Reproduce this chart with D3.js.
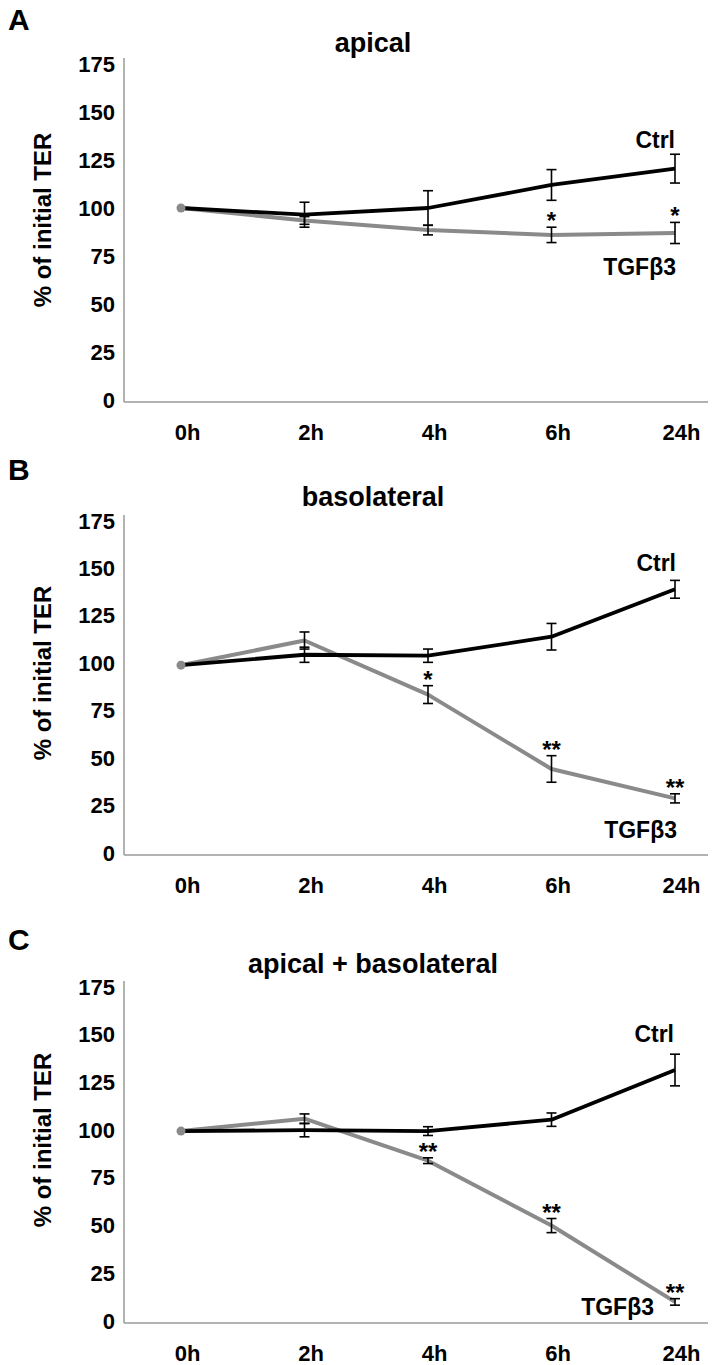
<!DOCTYPE html>
<html>
<head>
<meta charset="utf-8">
<script src="https://cdn.jsdelivr.net/npm/d3@7"></script>
<style>
body { margin: 0; background: #fff; }
svg text { font-family: "Liberation Sans", Arial, sans-serif; font-weight: bold; fill: #000; }
</style>
</head>
<body>
<svg id="chart" width="712" height="1365"></svg>
<script>
const times = ["0h", "2h", "4h", "6h", "24h"]
const yTicks = [0, 25, 50, 75, 100, 125, 150, 175]

// A - apical
const ctrlA = [100, 96.5, 100, 112, 120.5]
const ctrlAErr = [0, 6.5, 9, 8, 7.5]
const tgfA = [100, 93.5, 88.5, 86, 87]
const tgfAErr = [0, 2, 2.5, 4, 5.5]
const starsA = ["", "", "", "*", "*"]

// B - basolateral
const ctrlB = [99, 104.5, 104, 114, 139]
const ctrlBErr = [0, 4, 3.5, 7, 4.7]
const tgfB = [99, 112, 83.5, 44.3, 28.8]
const tgfBErr = [0, 4.5, 4.7, 7, 2.4]
const starsB = ["", "", "*", "**", "**"]

// C - apical + basolateral
const ctrlC = [99.5, 100, 99.5, 105.5, 131.5]
const ctrlCErr = [0, 3.5, 2.3, 3.5, 8.3]
const tgfC = [99.5, 106, 84, 50, 10]
const tgfCErr = [0, 2.5, 1.5, 3.7, 1.7]
const starsC = ["", "", "**", "**", "**"]

const panels = [
	{letter: "A", title: "apical", ctrl: ctrlA, ctrlErr: ctrlAErr, tgf: tgfA, tgfErr: tgfAErr, stars: starsA,
		y0: 400, y175: 64, letterY: 30, titleY: 52, ytitleY: 220, ctrlLab: [675, 148], tgfLab: [676, 275]},
	{letter: "B", title: "basolateral", ctrl: ctrlB, ctrlErr: ctrlBErr, tgf: tgfB, tgfErr: tgfBErr, stars: starsB,
		y0: 853, y175: 521, letterY: 480, titleY: 506, ytitleY: 673, ctrlLab: [676, 571], tgfLab: [677, 838]},
	{letter: "C", title: "apical + basolateral", ctrl: ctrlC, ctrlErr: ctrlCErr, tgf: tgfC, tgfErr: tgfCErr, stars: starsC,
		y0: 1321, y175: 987, letterY: 950, titleY: 973, ytitleY: 1140, ctrlLab: [674, 1042], tgfLab: [654, 1315]}
]

const svg = d3.select("#chart")
const x = d3.scalePoint().domain(times).range([181, 675])
const axisLeftX = 124
const axisRightX = 708

function drawPanel(p) {
	const g = svg.append("g")
	const y = d3.scaleLinear().domain([0, 175]).range([p.y0, p.y175])

	g.append("text").attr("x", 8).attr("y", p.letterY).style("font-size", "30px").text(p.letter)
	g.append("text").attr("x", 373).attr("y", p.titleY).attr("text-anchor", "middle")
		.style("font-size", "27px").text(p.title)
	g.append("text")
		.attr("transform", `translate(42,${p.ytitleY}) rotate(-90)`)
		.attr("text-anchor", "middle").attr("dominant-baseline", "central")
		.style("font-size", "24px").text("% of initial TER")

	// axes
	const ya = g.append("g").attr("transform", `translate(${axisLeftX},0)`)
		.call(d3.axisLeft(y).tickValues(yTicks).tickSize(0).tickPadding(9))
	ya.select(".domain").remove()
	ya.selectAll("text").style("font-size", "22px")

	const xa = g.append("g").attr("transform", `translate(6,${p.y0 + 2})`)
		.call(d3.axisBottom(x).tickSize(0).tickPadding(22))
	xa.select(".domain").remove()
	xa.selectAll("text").style("font-size", "22px")

	g.append("line").attr("x1", axisLeftX).attr("x2", axisLeftX)
		.attr("y1", y(175) - 6).attr("y2", p.y0 + 2)
		.attr("stroke", "#9a9a9a").attr("stroke-width", 1.5)
	g.append("line").attr("x1", axisLeftX).attr("x2", axisRightX)
		.attr("y1", p.y0 + 2).attr("y2", p.y0 + 2)
		.attr("stroke", "#9a9a9a").attr("stroke-width", 1.5)

	const line = d3.line().x((d, i) => x(times[i])).y(d => y(d))

	g.append("path").datum(p.tgf).attr("d", line)
		.attr("fill", "none").attr("stroke", "#8a8a8a").attr("stroke-width", 4)
		.attr("stroke-linejoin", "round")
	g.append("path").datum(p.ctrl).attr("d", line)
		.attr("fill", "none").attr("stroke", "#000").attr("stroke-width", 3.8)
		.attr("stroke-linejoin", "round")

	g.append("circle").attr("cx", x(times[0])).attr("cy", y(p.tgf[0])).attr("r", 4.5)
		.attr("fill", "#8a8a8a")

	// error bars
	const bars = []
	times.forEach((t, i) => {
		if (p.ctrlErr[i] > 0) bars.push({t: t, v: p.ctrl[i], e: p.ctrlErr[i]})
		if (p.tgfErr[i] > 0) bars.push({t: t, v: p.tgf[i], e: p.tgfErr[i]})
	})
	const eb = g.selectAll(".eb").data(bars).enter().append("g")
	eb.append("line").attr("x1", d => x(d.t)).attr("x2", d => x(d.t))
		.attr("y1", d => y(d.v + d.e)).attr("y2", d => y(d.v - d.e))
	eb.append("line").attr("x1", d => x(d.t) - 5).attr("x2", d => x(d.t) + 5)
		.attr("y1", d => y(d.v + d.e)).attr("y2", d => y(d.v + d.e))
	eb.append("line").attr("x1", d => x(d.t) - 5).attr("x2", d => x(d.t) + 5)
		.attr("y1", d => y(d.v - d.e)).attr("y2", d => y(d.v - d.e))
	eb.selectAll("line").attr("stroke", "#000").attr("stroke-width", 1.6)

	// significance stars
	times.forEach((t, i) => {
		if (!p.stars[i]) return
		g.append("text").attr("x", x(t)).attr("y", y(p.tgf[i] + p.tgfErr[i]) + 2)
			.attr("text-anchor", "middle").style("font-size", "24px").text(p.stars[i])
	})

	g.append("text").attr("x", p.ctrlLab[0]).attr("y", p.ctrlLab[1]).attr("text-anchor", "end")
		.style("font-size", "23px").text("Ctrl")
	g.append("text").attr("x", p.tgfLab[0]).attr("y", p.tgfLab[1]).attr("text-anchor", "end")
		.style("font-size", "23px").text("TGFβ3")
}

panels.forEach(drawPanel)
</script>
</body>
</html>
